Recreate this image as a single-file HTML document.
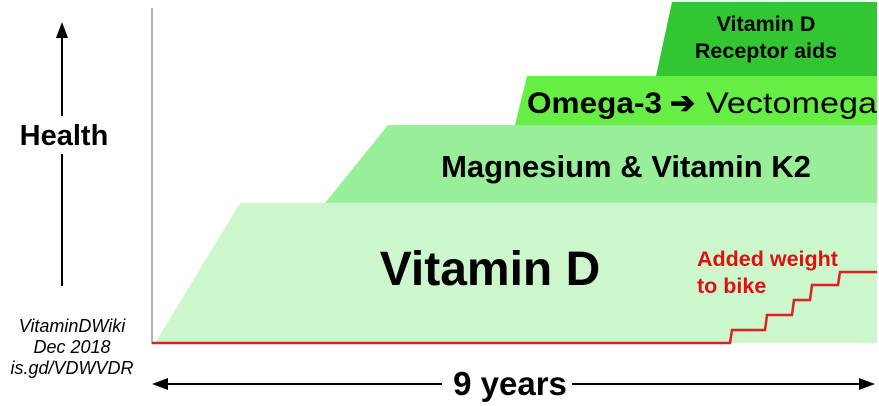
<!DOCTYPE html>
<html><head><style>body{margin:0;background:#fff}svg{display:block}</style></head><body>
<svg width="879" height="406" xmlns="http://www.w3.org/2000/svg" font-family="Liberation Sans, sans-serif">
<rect width="879" height="406" fill="#fff"/>
<polygon points="672,2 877,2 877,76 656,76" fill="#33c633"/>
<polygon points="527,76 877,76 877,125 515,125" fill="#66ee44"/>
<polygon points="388,125 877,125 877,203 325,203" fill="#99ee99"/>
<polygon points="240,203 877,203 877,343 155,343" fill="#ccf7cc"/>
<line x1="152" y1="8" x2="152" y2="344" stroke="#999" stroke-width="1.5"/>
<polyline points="152,343 730,343 732,330 765,330 767,315 792,315 794,300 810,300 812,285 838,285 840,272 877,272" fill="none" stroke="#e02020" stroke-width="2.5"/>
<text x="766" y="31" font-size="21.5" font-weight="bold" text-anchor="middle">Vitamin D</text>
<text x="766" y="58" font-size="21.5" font-weight="bold" text-anchor="middle">Receptor aids</text>
<text x="527" y="113" font-size="30" font-weight="bold" textLength="135" lengthAdjust="spacingAndGlyphs">Omega-3</text>
<text x="670" y="113" font-size="30" font-weight="bold">➔</text>
<text x="706" y="113" font-size="30" textLength="171" lengthAdjust="spacingAndGlyphs">Vectomega</text>
<text x="626" y="177" font-size="31" font-weight="bold" text-anchor="middle">Magnesium &amp; Vitamin K2</text>
<text x="490" y="285" font-size="48" font-weight="bold" text-anchor="middle">Vitamin D</text>
<text x="697" y="266" font-size="21.5" font-weight="bold" fill="#e01010">Added weight</text>
<text x="697" y="293" font-size="21.5" font-weight="bold" fill="#e01010">to bike</text>
<line x1="62" y1="286" x2="62" y2="36" stroke="#000" stroke-width="2"/>
<polygon points="62,22 56,38 68,38" fill="#000"/>
<rect x="8" y="116" width="115" height="38" fill="#fff"/>
<text x="64" y="145" font-size="29" font-weight="bold" text-anchor="middle">Health</text>
<g font-size="18" font-style="italic" text-anchor="middle">
<text x="72" y="332">VitaminDWiki</text><text x="72" y="353">Dec 2018</text><text x="72" y="374">is.gd/VDWVDR</text></g>
<line x1="162" y1="384" x2="865" y2="384" stroke="#000" stroke-width="2"/>
<polygon points="152,384 168,378 168,390" fill="#000"/>
<polygon points="875,384 859,378 859,390" fill="#000"/>
<rect x="442" y="366" width="130" height="34" fill="#fff"/>
<text x="510" y="395" font-size="33" font-weight="bold" text-anchor="middle">9 years</text>
</svg>
</body></html>
